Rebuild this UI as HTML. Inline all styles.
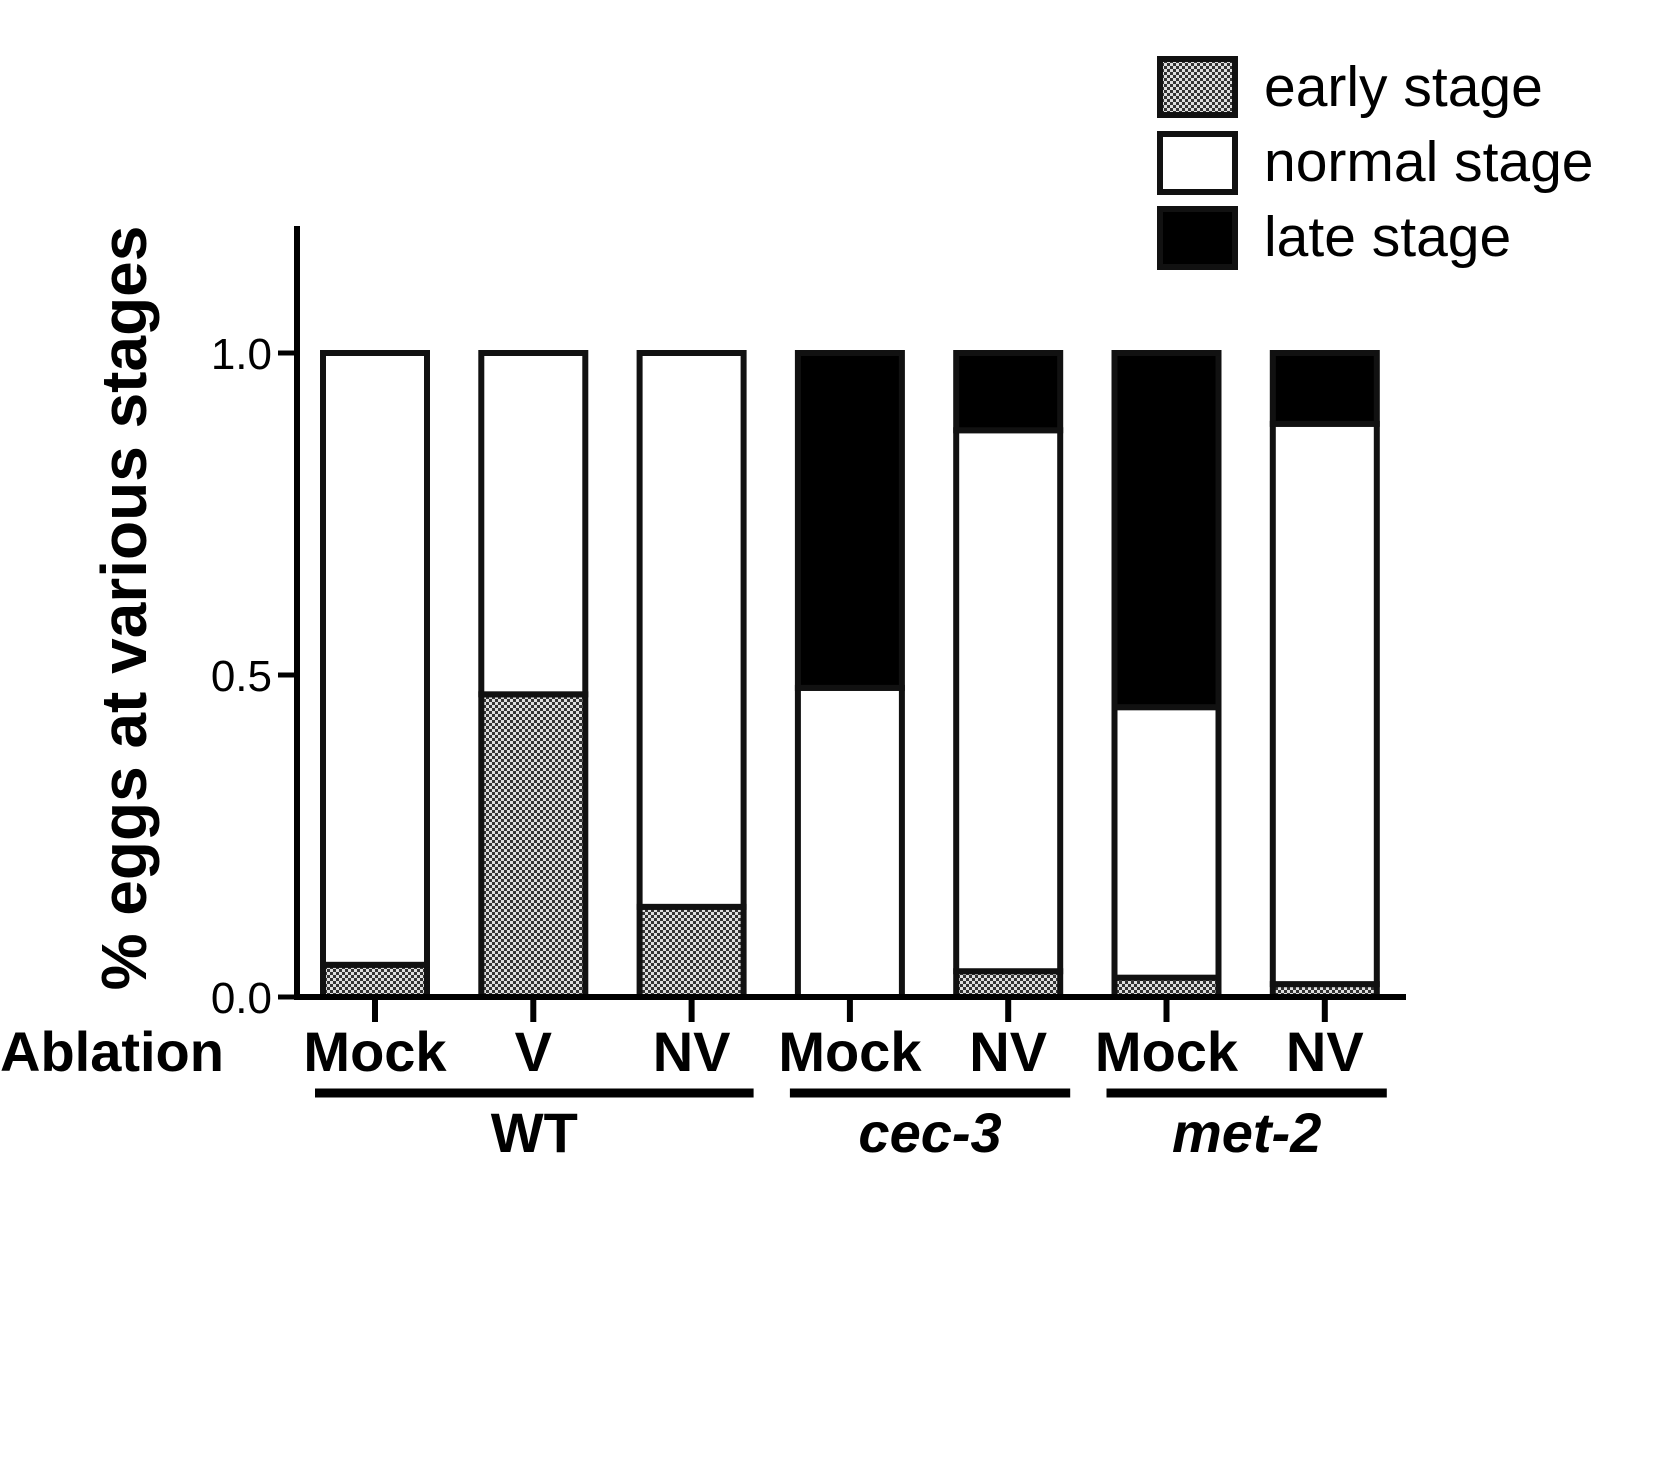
<!DOCTYPE html>
<html><head><meta charset="utf-8"><style>
html,body{margin:0;padding:0;background:#fff;}
svg{display:block;}
</style></head><body>
<svg id="chart" width="1654" height="1471" viewBox="0 0 1654 1471" xmlns="http://www.w3.org/2000/svg">
<defs>
<pattern id="hatch" width="6" height="6" patternUnits="userSpaceOnUse">
<rect width="6" height="6" fill="#ddd"/>
<rect x="0" y="0" width="3" height="3" fill="#333"/>
<rect x="3" y="3" width="3" height="3" fill="#333"/>
</pattern>
</defs>
<g id="legend">
<g>
<rect x="1160" y="59" width="75" height="56" fill="url(#hatch)" stroke="#111" stroke-width="6"/>
<text x="1264" y="106" font-family="Liberation Sans, sans-serif" font-size="57" fill="#000">early stage</text></g>
<g>
<rect x="1160" y="134" width="75" height="58" fill="#fff" stroke="#111" stroke-width="6"/>
<text x="1264" y="181" font-family="Liberation Sans, sans-serif" font-size="57" fill="#000">normal stage</text></g>
<g>
<rect x="1160" y="209" width="75" height="58" fill="#000" stroke="#111" stroke-width="6"/>
<text x="1264" y="256" font-family="Liberation Sans, sans-serif" font-size="57" fill="#000">late stage</text></g>
</g>
<text transform="translate(146,608) rotate(-90)" text-anchor="middle" font-family="Liberation Sans, sans-serif" font-weight="bold" font-size="64" fill="#000">% eggs at various stages</text>
<g id="bars"></g>
<g id="axes"></g>
<text x="0" y="1071" font-family="Liberation Sans, sans-serif" font-weight="bold" font-size="56" fill="#000">Ablation</text>
<g id="groups"></g>
</svg>
<script>
const categories = ["Mock","V","NV","Mock","NV","Mock","NV"];
const earlyVals = [0.05,0.47,0.14,0.0,0.04,0.03,0.02];
const normalVals = [0.95,0.53,0.86,0.48,0.84,0.42,0.87];
const lateVals = [0.0,0.0,0.0,0.52,0.12,0.55,0.11];
const yTicks = [0,0.5,1.0];
const yTickLabels = ["0.0","0.5","1.0"];
const groupNames = ["WT","cec-3","met-2"];
const groupStart = [0,3,5];
const groupEnd = [2,4,6];

const NS="http://www.w3.org/2000/svg";
const y0=997, yUnit=644;
const yScale=v=>y0-v*yUnit;
const x0=375, step=158.3, bw=104;
const xScale=i=>x0+i*step;
function mk(tag,attrs,parent){const e=document.createElementNS(NS,tag);for(const k in attrs)e.setAttribute(k,attrs[k]);parent.appendChild(e);return e;}
const bars=document.getElementById('bars');
categories.forEach((c,i)=>{
  const g=mk('g',{},bars);
  
  
  const segs=[[earlyVals[i],'url(#hatch)','early'],[normalVals[i],'#fff','normal'],[lateVals[i],'#000','late']];
  let acc=0;
  segs.forEach(s=>{
    if(s[0]<=0)return;
    const r=mk('rect',{x:xScale(i)-bw/2,y:yScale(acc+s[0]),width:bw,height:s[0]*yUnit,fill:s[1],stroke:'#111','stroke-width':6},g);
    
    
    acc+=s[0];
  });
});
const axes=document.getElementById('axes');
const ya=mk('line',{x1:297,y1:226,x2:297,y2:1000,stroke:'#000','stroke-width':6},axes);


const xa=mk('line',{x1:294,y1:997,x2:1406,y2:997,stroke:'#000','stroke-width':6},axes);


yTicks.forEach((t,k)=>{
  const l=mk('line',{x1:278,y1:yScale(t),x2:297,y2:yScale(t),stroke:'#000','stroke-width':5},axes);
  
  
  const tx=mk('text',{x:272,y:yScale(t)+16,'text-anchor':'end','font-family':'Liberation Sans, sans-serif','font-size':44,fill:'#000'},axes);
  tx.textContent=yTickLabels[k];
  
  
});
categories.forEach((c,i)=>{
  const l=mk('line',{x1:xScale(i),y1:997,x2:xScale(i),y2:1022,stroke:'#000','stroke-width':6},axes);
  
  
  const tx=mk('text',{x:xScale(i),y:1071,'text-anchor':'middle','font-family':'Liberation Sans, sans-serif','font-weight':'bold','font-size':56,fill:'#000'},axes);
  tx.textContent=c;
  
  
});
const groups=document.getElementById('groups');
groupNames.forEach((n,k)=>{
  const xa1=xScale(groupStart[k])-60, xa2=xScale(groupEnd[k])+62;
  const l=mk('line',{x1:xa1,y1:1093,x2:xa2,y2:1093,stroke:'#000','stroke-width':9},groups);
  
  
  const tx=mk('text',{x:(xa1+xa2)/2,y:1152,'text-anchor':'middle','font-family':'Liberation Sans, sans-serif','font-weight':'bold','font-size':56,'font-style':k===0?'normal':'italic',fill:'#000'},groups);
  tx.textContent=n;
  
  
});
</script>
</body></html>
